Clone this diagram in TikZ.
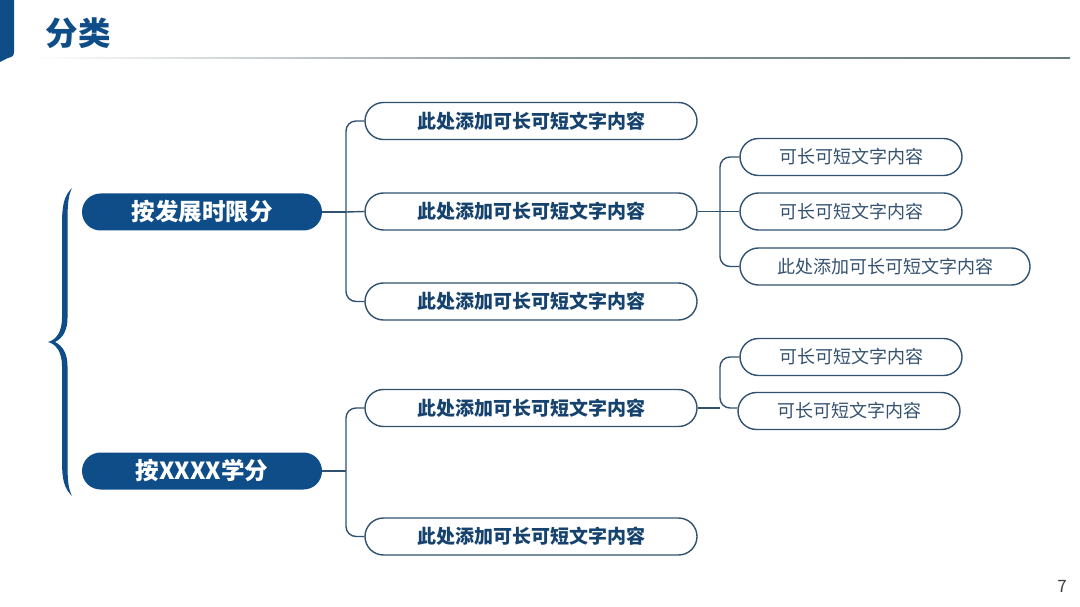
\documentclass[tikz,border=0pt]{standalone}
\usepackage{fontspec}
\setmainfont{Noto Sans CJK SC}
\usetikzlibrary{shapes.misc}
\definecolor{navy}{RGB}{15,77,136}
\definecolor{linec}{RGB}{48,82,112}
\definecolor{txtb}{RGB}{22,66,110}
\definecolor{txtl}{RGB}{52,82,112}
\definecolor{rulec}{RGB}{105,122,128}
\tikzset{
  mainpill/.style={rounded rectangle, fill=navy, text=white, font=\fontsize{23.5}{26}\selectfont\bfseries, minimum width=240pt, minimum height=37pt, inner sep=0pt},
  lvtwo/.style={rounded rectangle, draw=linec, line width=1.4pt, fill=white, text=txtb, font=\fontsize{19}{22}\selectfont\bfseries, minimum width=332pt, minimum height=37pt, inner sep=0pt},
  lvthree/.style={rounded rectangle, draw=linec, line width=1.4pt, fill=white, text=txtl, font=\fontsize{18}{21}\selectfont, minimum width=222pt, minimum height=37pt, inner sep=0pt},
  conn/.style={draw=linec, line width=1.4pt, rounded corners=10pt},
}
\begin{document}
\begin{tikzpicture}[x=1pt,y=-1pt]
\useasboundingbox (0,0) rectangle (1080,607);
% left accent
\fill[navy] (0,0) -- (14,0) -- (14,52) .. controls (14,56) and (12,57) .. (8,58) -- (0,62) -- cycle;
% title
\node[text=navy, font=\fontsize{32.5}{36}\selectfont\bfseries, anchor=west] (title) at (42,33) {分类};
% rule
\shade[left color=white, right color=rulec, middle color=rulec!80] (32,57.3) rectangle (1070,58.9);
% brace
\fill[navy] (72,188) .. controls (64,196) and (62,205) .. (62,225) -- (62,318)
  .. controls (62,332) and (56,340) .. (48,342)
  .. controls (56,344) and (62,352) .. (62,366) -- (62,460)
  .. controls (62,480) and (64,488) .. (72,496)
  .. controls (68,488) and (67.5,480) .. (67.5,460) -- (67.5,366)
  .. controls (67.5,354) and (63,346) .. (55,342)
  .. controls (63,338) and (67.5,330) .. (67.5,318) -- (67.5,225)
  .. controls (67.5,205) and (68,196) .. (72,188) -- cycle;
% main pills
\node[mainpill] (p1) at (202,212) {按发展时限分};
\node[mainpill] (p2) at (202,471) {按XXXX学分};
% level 2
\node[lvtwo] (A) at (531,121) {此处添加可长可短文字内容};
\node[lvtwo] (B) at (531,211.5) {此处添加可长可短文字内容};
\node[lvtwo] (C) at (531,301.5) {此处添加可长可短文字内容};
\node[lvtwo] (D) at (531,408) {此处添加可长可短文字内容};
\node[lvtwo] (E) at (531,536.5) {此处添加可长可短文字内容};
% level 3
\node[lvthree] (F) at (851,157) {可长可短文字内容};
\node[lvthree] (G) at (851,211.5) {可长可短文字内容};
\node[lvthree, minimum width=290pt] (H) at (885,266.5) {此处添加可长可短文字内容};
\node[lvthree] (I) at (851,357) {可长可短文字内容};
\node[lvthree] (J) at (849,411) {可长可短文字内容};
% connectors
\coordinate (t1) at (346,212);
\coordinate (t2) at (346,471);
\coordinate (t3) at (720,211.5);
\coordinate (t4) at (720,408);
\draw[conn] (p1.east) -- (t1);
\draw[conn] (A.west) -| (t1) |- (C.west);
\draw[conn] (t1) -- (B.west);
\draw[conn] (p2.east) -- (t2);
\draw[conn] (D.west) -| (t2) |- (E.west);
\draw[conn] (B.east) -- (t3);
\draw[conn] (F.west) -| (t3) |- (H.west);
\draw[conn] (t3) -- (G.west);
\draw[conn] (D.east) -- (t4);
\draw[conn] (I.west) -| (t4) -- (J.west |- t4);
% page number
\node[text=black!75, font=\fontsize{17}{19}\selectfont] (pg) at (1062,586) {7};
\end{tikzpicture}
\end{document}
